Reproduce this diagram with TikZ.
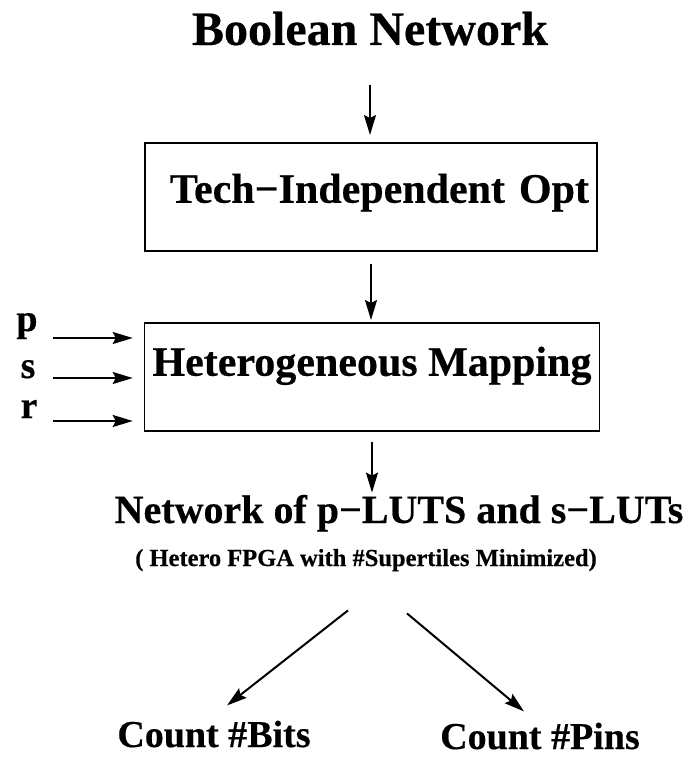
\documentclass[tikz,border=0pt]{standalone}
\usepackage{fontspec}
\setmainfont{Liberation Serif}[BoldFeatures={FakeBold=0.4}]
\usetikzlibrary{calc,positioning,arrows.meta}

\begin{document}
\begin{tikzpicture}[x=1pt,y=-1pt,>={Stealth[length=20pt,width=12pt,inset=3pt]},
  every node/.style={font=\bfseries,inner sep=0pt},
  stage/.style={draw,line width=1.5pt,inner xsep=8pt,inner ysep=0pt},
  flow/.style={->,line width=2pt}]
\fill[white] (0,0) rectangle (691,757);
\useasboundingbox (0,0) rectangle (691,757);
\node[anchor=base,font=\bfseries\fontsize{48}{56}\selectfont] (bool) at (370,45) {Boolean Network};
\node[stage,anchor=north,text width=436pt,align=right,text height=60pt,text depth=48pt,font=\bfseries\fontsize{42}{50}\selectfont] (opt) at (371,142) {Tech−Independent Opt};
\node[stage,anchor=north,minimum width=454pt,text height=53pt,text depth=55pt,font=\bfseries\fontsize{42}{50}\selectfont] (map) at (372,322) {Heterogeneous Mapping};
\node[anchor=base,font=\bfseries\fontsize{38}{44}\selectfont] (lp) at (27,331) {p};
\node[anchor=base,font=\bfseries\fontsize{38}{44}\selectfont] (ls) at (28,378) {s};
\node[anchor=base,font=\bfseries\fontsize{38}{44}\selectfont] (lr) at (29,418) {r};
\node[anchor=base,font=\bfseries\fontsize{40}{48}\selectfont] (net) at (399,523) {Network of p−LUTS and s−LUTs};
\node[anchor=base,font=\bfseries\fontsize{24.5}{29}\selectfont] (hetero) at (366,566) {( Hetero FPGA with \#Supertiles Minimized)};
\node[anchor=base,font=\bfseries\fontsize{38}{44}\selectfont] (bits) at (214,747) {Count \#Bits};
\node[anchor=base,font=\bfseries\fontsize{38}{44}\selectfont] (pins) at (540,749) {Count \#Pins};
% inputs of the mapper
\coordinate (inp) at (53,338);
\coordinate (ins) at (53,378);
\coordinate (inr) at (53,421);
\draw[flow,shorten >=11pt] (inp) -- (inp -| map.west);
\draw[flow,shorten >=11pt] (ins) -- (ins -| map.west);
\draw[flow,shorten >=11pt] (inr) -- (inr -| map.west);
% main flow
\draw[flow,shorten <=39pt,shorten >=7pt] (bool.south) -- (bool.south |- opt.north);
\draw[flow,shorten <=12pt,shorten >=2pt] (opt.south) -- (opt.south |- map.north);
\draw[flow,shorten <=10pt,shorten >=2pt] (map.south) -- (map.south |- net.north);
\draw[flow] ($(hetero.south)+(-18,39)$) -- ([xshift=13pt,yshift=15pt]bits.north);
\draw[flow] ($(hetero.south)+(41,42)$) -- ([xshift=-16pt,yshift=11pt]pins.north);
\end{tikzpicture}
\end{document}
